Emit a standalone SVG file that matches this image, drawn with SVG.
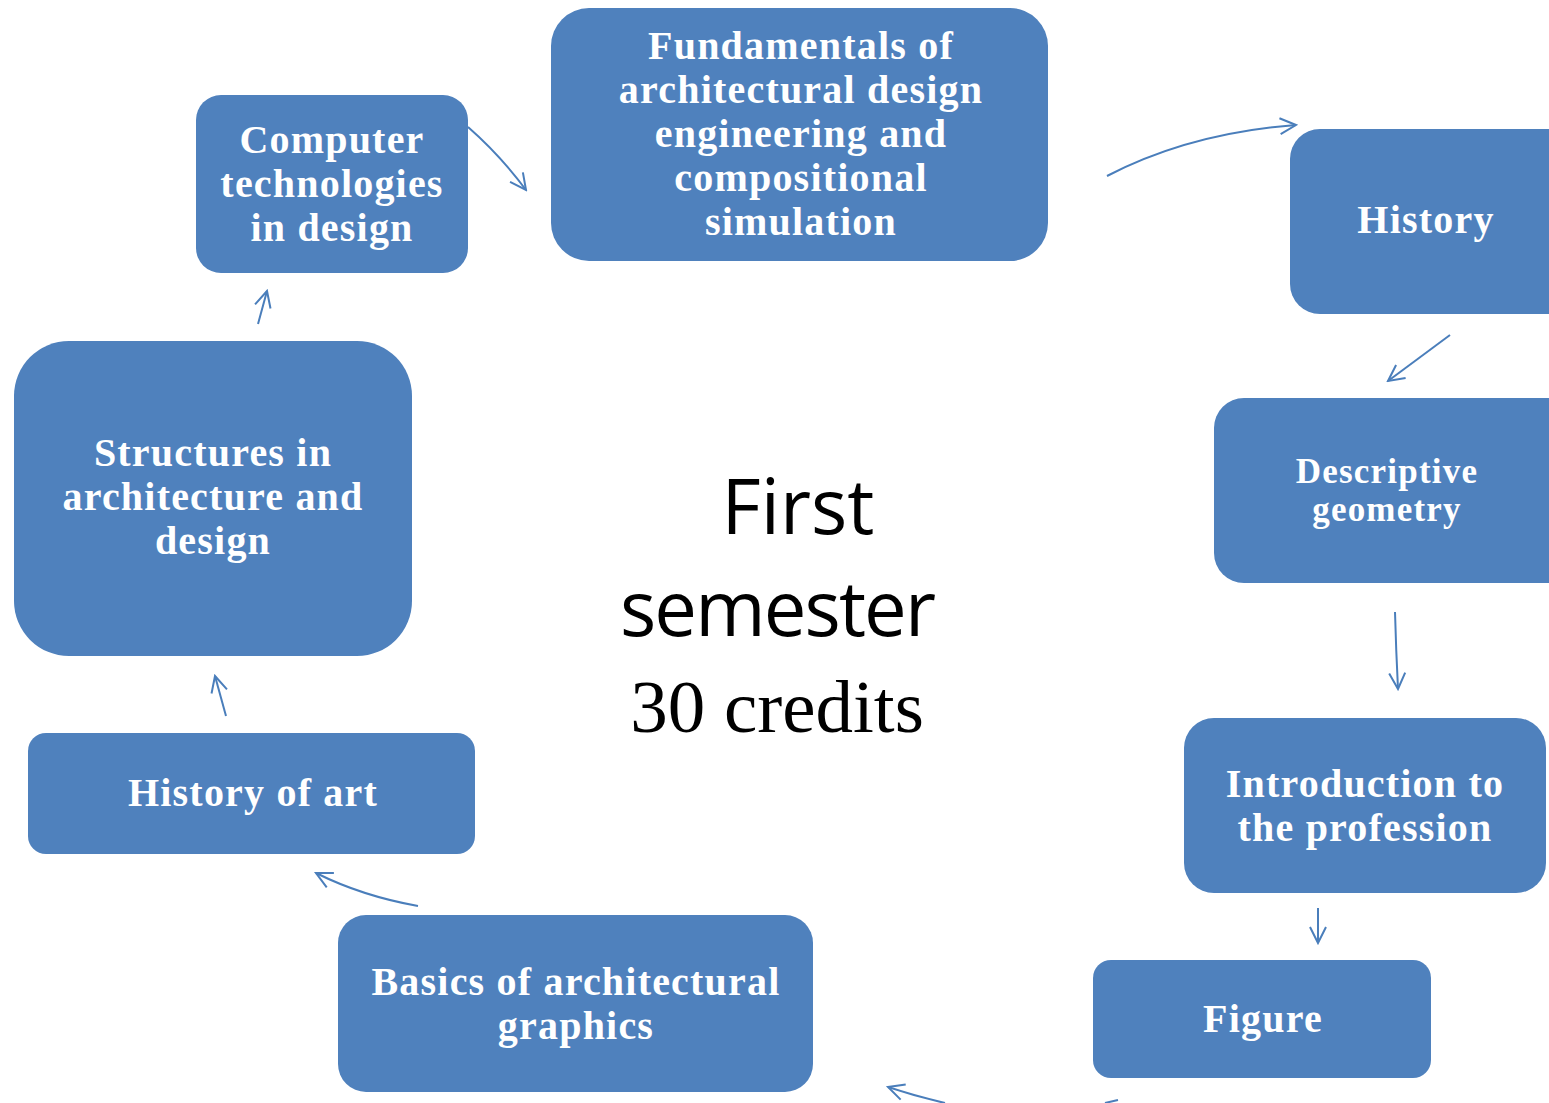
<svg xmlns="http://www.w3.org/2000/svg" width="1549" height="1103" viewBox="0 0 1549 1103">
<defs>
<style>
.box{fill:#4F81BD;}
.t{font-family:"Liberation Serif",serif;font-weight:bold;fill:#fff;text-anchor:middle;font-size:40px;letter-spacing:1.2px;}
.c{fill:none;stroke:#4A7EBB;stroke-width:2;marker-end:url(#ah);}
</style>
<marker id="ah" viewBox="0 0 20 20" refX="18" refY="10" markerWidth="20" markerHeight="20" markerUnits="userSpaceOnUse" orient="auto">
<path d="M2,2 L18,10 L2,18" fill="none" stroke="#4A7EBB" stroke-width="2"/>
</marker>
</defs>
<rect width="1549" height="1103" fill="#fff"/>
<g id="connectors">
<path class="c" d="M468,127 Q500,155 526,190"/>
<path class="c" d="M1107,176 Q1190,133 1296,125"/>
<path class="c" d="M1450,335 L1388,381"/>
<path class="c" d="M1395,612 Q1396,650 1398,689"/>
<path class="c" d="M1318,908 L1318,943"/>
<path fill="none" stroke="#4A7EBB" stroke-width="2" d="M1118,1100 L1105,1103"/>
<path class="c" d="M945,1103 Q915,1096 888,1087"/>
<path class="c" d="M418,906 Q362,896 316,873"/>
<path class="c" d="M226,716 L215,676"/>
<path class="c" d="M258,324 L267,291"/>
</g>
<g id="n-computer"><rect class="box" x="196" y="95" width="272" height="178" rx="25"/>
<text class="t" x="332" y="153">Computer</text><text class="t" x="332" y="197">technologies</text><text class="t" x="332" y="241">in design</text></g>
<g id="n-fundamentals"><rect class="box" x="551" y="8" width="497" height="253" rx="38"/>
<text class="t" x="801" y="59">Fundamentals of</text><text class="t" x="801" y="103">architectural design</text><text class="t" x="801" y="147">engineering and</text><text class="t" x="801" y="191">compositional</text><text class="t" x="801" y="235">simulation</text></g>
<g id="n-history"><rect class="box" x="1290" y="129" width="290" height="185" rx="30"/>
<text class="t" x="1426" y="233">History</text></g>
<g id="n-descriptive"><rect class="box" x="1214" y="398" width="366" height="185" rx="30"/>
<text class="t" x="1387" y="483" style="font-size:35px">Descriptive</text><text class="t" x="1387" y="521" style="font-size:35px">geometry</text></g>
<g id="n-intro"><rect class="box" x="1184" y="718" width="362" height="175" rx="30"/>
<text class="t" x="1365" y="797">Introduction to</text><text class="t" x="1365" y="841">the profession</text></g>
<g id="n-figure"><rect class="box" x="1093" y="960" width="338" height="118" rx="18"/>
<text class="t" x="1263" y="1032">Figure</text></g>
<g id="n-basics"><rect class="box" x="338" y="915" width="475" height="177" rx="28"/>
<text class="t" x="576" y="995">Basics of architectural</text><text class="t" x="576" y="1039">graphics</text></g>
<g id="n-historyart"><rect class="box" x="28" y="733" width="447" height="121" rx="18"/>
<text class="t" x="253" y="806">History of art</text></g>
<g id="n-structures"><rect class="box" x="14" y="341" width="398" height="315" rx="55"/>
<text class="t" x="213" y="466">Structures in</text><text class="t" x="213" y="510">architecture and</text><text class="t" x="213" y="554">design</text></g>
<g id="center">
<text x="798" y="534" font-family="'Open Sans','Noto Sans',sans-serif" font-size="76" text-anchor="middle" fill="#000">First</text>
<text x="778" y="636" font-family="'Open Sans','Noto Sans',sans-serif" font-size="76" text-anchor="middle" fill="#000" textLength="316">semester</text>
<text x="777" y="732" font-family="'Liberation Serif',serif" font-size="75" text-anchor="middle" fill="#000">30 credits</text>
</g>
</svg>
